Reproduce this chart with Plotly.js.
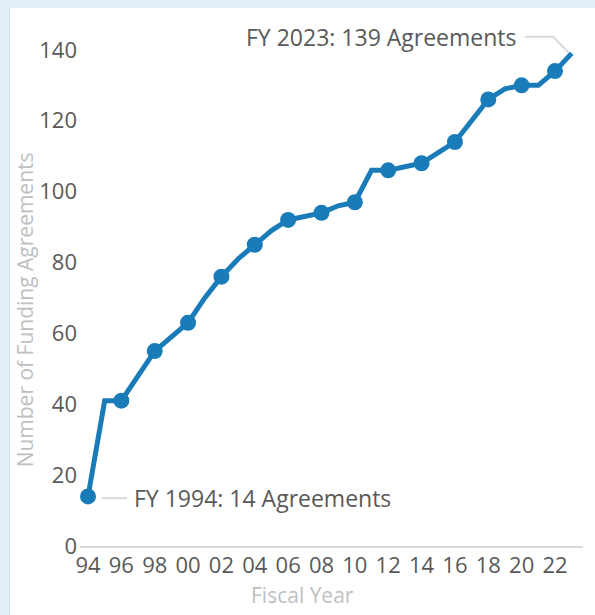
<!DOCTYPE html>
<html>
<head>
<meta charset="utf-8">
<script src="https://cdn.plot.ly/plotly-3.0.1.min.js"></script>
<style>
  html, body { margin: 0; padding: 0; width: 595px; height: 615px; overflow: hidden; background: #e5eff7; }
  #card { position: absolute; left: 9px; top: 8px; right: 0; bottom: 0; background: #ffffff; border-left: 1px solid #d2e3ee; }
  #chart { position: absolute; left: 0; top: 0; width: 595px; height: 615px; }
</style>
</head>
<body>
<div id="card"></div>
<div id="chart"></div>
<script>
// Fiscal years and cumulative number of funding agreements
const years = [1994, 1995, 1996, 1997, 1998, 1999, 2000, 2001, 2002, 2003,
               2004, 2005, 2006, 2007, 2008, 2009, 2010, 2011, 2012, 2013,
               2014, 2015, 2016, 2017, 2018, 2019, 2020, 2021, 2022, 2023];
const agreements = [14, 41, 41, 48, 55, 59, 63, 70, 76, 81,
                    85, 89, 92, 93, 94, 96, 97, 106, 106, 107,
                    108, 111, 114, 120, 126, 129, 130, 130, 134, 139];
// Years that carry a marker
const markerYears = [1994, 1996, 1998, 2000, 2002, 2004, 2006, 2008, 2010, 2012, 2014, 2016, 2018, 2020, 2022];
const markerValues = markerYears.map(y => agreements[years.indexOf(y)]);
// Axis ticks
const xTickVals = markerYears;
const xTickText = ["94", "96", "98", "00", "02", "04", "06", "08", "10", "12", "14", "16", "18", "20", "22"];
const yTickVals = [0, 20, 40, 60, 80, 100, 120, 140];

const blue = "#197cb9";
const grey = "#d9d9d9";
const textCol = "#595959";
const titleCol = "#bfbfbf";

const traces = [
  {
    x: years, y: agreements, type: "scatter", mode: "lines",
    line: { color: blue, width: 5 }, cliponaxis: false, hoverinfo: "x+y"
  },
  {
    x: markerYears, y: markerValues, type: "scatter", mode: "markers",
    marker: { color: blue, size: 16 }, cliponaxis: false, hoverinfo: "x+y"
  }
];

const layout = {
  width: 595, height: 615,
  margin: { l: 80, r: 12, t: 30, b: 69 },
  paper_bgcolor: "rgba(0,0,0,0)",
  plot_bgcolor: "rgba(0,0,0,0)",
  showlegend: false,
  font: { family: "Open Sans, sans-serif", color: textCol },
  xaxis: {
    range: [1993.52, 2023.68],
    tickvals: xTickVals, ticktext: xTickText,
    showgrid: false, zeroline: false,
    showline: true, linecolor: grey, linewidth: 1.5,
    ticks: "", ticklabelstandoff: -1,
    tickfont: { size: 22, color: textCol }
  },
  yaxis: {
    range: [0, 145.6],
    tickvals: yTickVals,
    showgrid: false, zeroline: false, showline: false,
    ticks: "", ticklabelstandoff: 2,
    tickfont: { size: 22, color: textCol }
  },
  annotations: [
    {
      xref: "paper", yref: "paper", x: -0.109, y: 0.457,
      xanchor: "center", yanchor: "middle",
      text: "Number of Funding Agreements", textangle: -90,
      showarrow: false, font: { size: 21, color: titleCol }
    },
    {
      xref: "paper", yref: "paper", x: 0.443, y: -0.095,
      xanchor: "center", yanchor: "middle",
      text: "Fiscal Year", showarrow: false,
      font: { size: 21, color: titleCol }
    },
    {
      xref: "x", yref: "y", x: 2019.84, y: 143.7, xanchor: "right", yanchor: "middle",
      text: "FY 2023: 139 Agreements", showarrow: false,
      font: { size: 23, color: textCol }
    },
    {
      xref: "x", yref: "y", x: 1996.62, y: 13.5, xanchor: "left", yanchor: "middle",
      text: "FY 1994: 14 Agreements", showarrow: false,
      font: { size: 23, color: textCol }
    }
  ],
  shapes: [
    {
      type: "path", xref: "x", yref: "y",
      path: "M 2020.2 143.7 L 2021.9 143.7 L 2022.8 139.3",
      line: { color: grey, width: 2 }
    },
    {
      type: "line", xref: "x", yref: "y",
      x0: 1994.84, x1: 1996.34, y0: 13.5, y1: 13.5,
      line: { color: grey, width: 2 }
    }
  ]
};

Plotly.newPlot("chart", traces, layout, { displayModeBar: false, staticPlot: true });
</script>
</body>
</html>
